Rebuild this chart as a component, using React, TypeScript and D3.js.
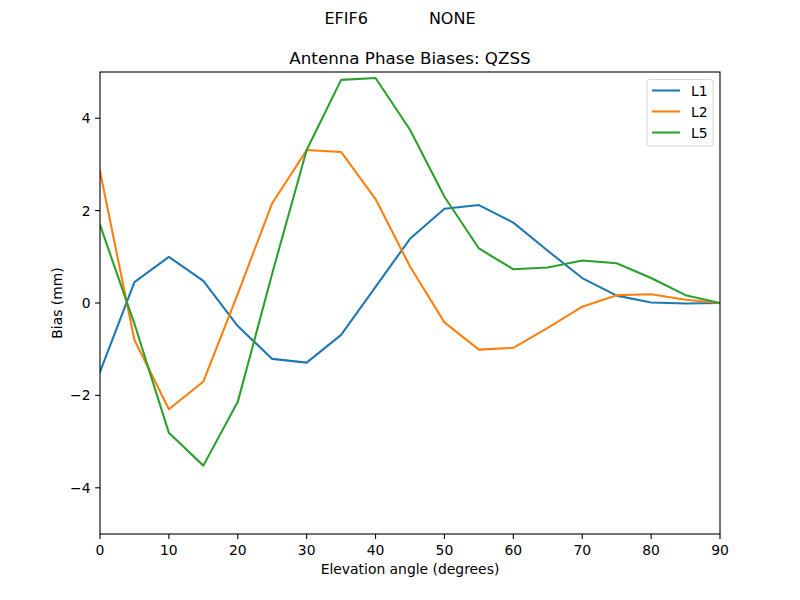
import * as d3 from 'd3';

// Elevation grid and per-frequency bias values (mm)
const elevations = [0, 5, 10, 15, 20, 25, 30, 35, 40, 45, 50, 55, 60, 65, 70, 75, 80, 85, 90];
const l1Values = [-1.49, 0.45, 1.0, 0.48, -0.5, -1.21, -1.29, -0.69, 0.35, 1.39, 2.04, 2.12, 1.74, 1.13, 0.54, 0.16, 0.01, -0.01, 0];
const l2Values = [2.85, -0.8, -2.3, -1.7, 0.2, 2.16, 3.31, 3.27, 2.25, 0.79, -0.42, -1.01, -0.97, -0.54, -0.08, 0.17, 0.19, 0.07, 0];
const l5Values = [1.69, -0.45, -2.81, -3.52, -2.14, 0.64, 3.31, 4.83, 4.87, 3.75, 2.3, 1.18, 0.73, 0.77, 0.92, 0.86, 0.54, 0.17, 0];
const seriesNames = ['L1', 'L2', 'L5'];
const seriesColors = ['#1f77b4', '#ff7f0e', '#2ca02c'];
const xTicks = [0, 10, 20, 30, 40, 50, 60, 70, 80, 90];
const yTicks = [-4, -2, 0, 2, 4];

const WIDTH = 800;
const HEIGHT = 600;
const margin = { top: 72, right: 80, bottom: 66, left: 100 };
const FONT = 'DejaVu Sans, sans-serif';

export default function App() {
  const x = d3.scaleLinear().domain([0, 90]).range([margin.left, WIDTH - margin.right]);
  const y = d3.scaleLinear().domain([-5, 5]).range([HEIGHT - margin.bottom, margin.top]);

  const line = d3.line<number>()
    .x((_d, i) => x(elevations[i]))
    .y((d) => y(d));

  const series = [l1Values, l2Values, l5Values];
  const fmt = (v: number) => (v < 0 ? `\u2212${Math.abs(v)}` : `${v}`);

  const x0 = margin.left;
  const x1 = WIDTH - margin.right;
  const y0 = margin.top;
  const y1 = HEIGHT - margin.bottom;

  const legendX = 647;
  const legendY = 79.5;

  return (
    <svg
      width={WIDTH}
      height={HEIGHT}
      style={{ display: 'block', position: 'absolute', left: 0, top: 0, background: '#fff' }}
      fontFamily={FONT}
    >
      <rect width={WIDTH} height={HEIGHT} fill="#fff" />

      <text x={400} y={24} textAnchor="middle" fontSize={16} fill="#000" style={{ whiteSpace: 'pre' }}>
        {'EFIF6            NONE'}
      </text>
      <text x={410} y={64} textAnchor="middle" fontSize={16.7} fill="#000">
        Antenna Phase Biases: QZSS
      </text>

      <defs>
        <clipPath id="plot-clip">
          <rect x={x0} y={y0} width={x1 - x0} height={y1 - y0} />
        </clipPath>
      </defs>

      <g clipPath="url(#plot-clip)">
        {series.map((vals, i) => (
          <path
            key={seriesNames[i]}
            d={line(vals) ?? ''}
            fill="none"
            stroke={seriesColors[i]}
            strokeWidth={2.08}
            strokeLinejoin="round"
            strokeLinecap="square"
          />
        ))}
      </g>

      {/* spines */}
      <rect x={x0} y={y0} width={x1 - x0} height={y1 - y0} fill="none" stroke="#000" strokeWidth={1.1} />

      {/* x ticks */}
      {xTicks.map((t) => (
        <g key={`x${t}`}>
          <line x1={x(t)} x2={x(t)} y1={y1} y2={y1 + 4.9} stroke="#000" strokeWidth={1.1} />
          <text x={x(t)} y={y1 + 20.5} textAnchor="middle" fontSize={13.9} fill="#000">
            {fmt(t)}
          </text>
        </g>
      ))}

      {/* y ticks */}
      {yTicks.map((t) => (
        <g key={`y${t}`}>
          <line x1={x0 - 4.9} x2={x0} y1={y(t)} y2={y(t)} stroke="#000" strokeWidth={1.1} />
          <text x={x0 - 9.5} y={y(t) + 5} textAnchor="end" fontSize={13.9} fill="#000">
            {fmt(t)}
          </text>
        </g>
      ))}

      <text x={(x0 + x1) / 2} y={574} textAnchor="middle" fontSize={13.9} fill="#000">
        Elevation angle (degrees)
      </text>
      <text
        transform={`translate(62, ${(y0 + y1) / 2}) rotate(-90)`}
        textAnchor="middle"
        fontSize={13.9}
        fill="#000"
      >
        Bias (mm)
      </text>

      {/* legend */}
      <rect
        x={legendX}
        y={legendY}
        width={66}
        height={66.5}
        rx={2.5}
        fill="#fff"
        fillOpacity={0.8}
        stroke="#d6d6d6"
        strokeWidth={1}
      />
      {seriesNames.map((name, i) => (
        <g key={`leg${name}`}>
          <line
            x1={legendX + 5}
            x2={legendX + 33}
            y1={legendY + 11 + i * 21}
            y2={legendY + 11 + i * 21}
            stroke={seriesColors[i]}
            strokeWidth={2.08}
          />
          <text x={legendX + 44} y={legendY + 16 + i * 21} fontSize={13.9} fill="#000">
            {name}
          </text>
        </g>
      ))}
    </svg>
  );
}
